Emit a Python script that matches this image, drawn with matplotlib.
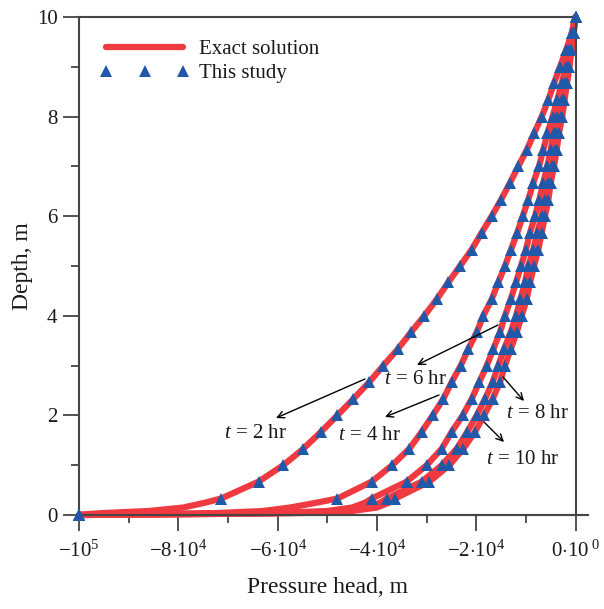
import numpy as np
import matplotlib
matplotlib.use("Agg")
import matplotlib.pyplot as plt
from matplotlib.lines import Line2D

plt.rcParams['font.family'] = ['Liberation Serif', 'DejaVu Serif']
plt.rcParams['mathtext.fontset'] = 'custom'
plt.rcParams['mathtext.rm'] = 'Liberation Serif'
plt.rcParams['mathtext.it'] = 'Liberation Serif:italic'

# ---------------- data ----------------
depth = [0.00, 0.33, 0.67, 1.00, 1.33, 1.67, 2.00, 2.33, 2.67, 3.00,
         3.33, 3.67, 4.00, 4.33, 4.67, 5.00, 5.33, 5.67, 6.00, 6.33,
         6.67, 7.00, 7.33, 7.67, 8.00, 8.33, 8.67, 9.00, 9.33, 9.67, 10.00]

h_t2 = [-100000, -71400, -63840, -58850, -54820, -51260, -47970, -44750, -41530, -38710,
        -35810, -33130, -30450, -27950, -25620, -23260, -20910, -18890, -16880, -15000,
        -13190, -11520, -9830, -8300, -6810, -5480, -4330, -3120, -1910, -770, 0]
h_t4 = [-100000, -47970, -41050, -36920, -33470, -30980, -28760, -26630, -24930, -23120,
        -21590, -19900, -18570, -16880, -15550, -14200, -12990, -11720, -10630, -9510,
        -8500, -7350, -6490, -5640, -4630, -3670, -2780, -1910, -1450, -770, 0]
h_t6 = [-100000, -41050, -34000, -29970, -26950, -24930, -22720, -20910, -19370, -17880,
        -16550, -15210, -14200, -13050, -11980, -10980, -9970, -9160, -8160, -7290,
        -6490, -5680, -4990, -4430, -3630, -2780, -2110, -1450, -970, -500, 0]
h_t8 = [-100000, -38020, -30980, -26950, -23930, -21790, -19900, -18230, -16680, -15550,
        -14400, -13050, -11980, -11080, -10170, -9510, -8500, -7690, -6810, -6140,
        -5480, -4790, -4130, -3930, -3020, -2520, -1910, -1450, -910, -400, 0]
h_t10 = [-100000, -36350, -29440, -25410, -22600, -20240, -18430, -16680, -15210, -14200,
         -13050, -11840, -10840, -9830, -9160, -8360, -7490, -6810, -6140, -5480,
         -4990, -4330, -3790, -3320, -2660, -2220, -1710, -1210, -810, -400, 0]

# extra points of the exact-solution curves close to the bottom boundary
depth_bottom = [0.00, 0.02, 0.04, 0.08, 0.15, 0.25]
hb_t2 = [-100000, -98000, -95000, -86000, -79000, -74500]
hb_t4 = [-100000, -85000, -72000, -63000, -57500, -52000]
hb_t6 = [-100000, -78000, -60000, -50000, -45000, -42300]
hb_t8 = [-100000, -75000, -57000, -47000, -42000, -39300]
hb_t10 = [-100000, -73000, -55000, -45000, -40000, -37500]

labels = ["$t$ = 2 hr", "$t$ = 4 hr", "$t$ = 6 hr", "$t$ = 8 hr", "$t$ = 10 hr"]

xticks = [-100000, -80000, -60000, -40000, -20000, 0]
xticklabels = [r"$-10^{5}$", r"$-8{\cdot}10^{4}$", r"$-6{\cdot}10^{4}$",
               r"$-4{\cdot}10^{4}$", r"$-2{\cdot}10^{4}$", r"$0{\cdot}10^{\ 0}$"]
yticks = [0, 2, 4, 6, 8, 10]

RED = '#EE3A40'
BLUE = '#2258A8'
SPINE = '#454545'

# ---------------- figure ----------------
W, H = 604, 609
fig = plt.figure(figsize=(W / 100, H / 100), dpi=100)
L, R, B, T = 79, 575.5, 515, 17
ax = fig.add_axes([L / W, 1 - B / H, (R - L) / W, (B - T) / H])

series = [(h_t2, hb_t2), (h_t4, hb_t4), (h_t6, hb_t6), (h_t8, hb_t8), (h_t10, hb_t10)]
for h, hb in series:
    xs = hb + h[1:]
    ys = depth_bottom + depth[1:]
    order = np.argsort(ys)
    ax.plot(np.array(xs)[order], np.array(ys)[order], color=RED, lw=4.5,
            solid_capstyle='round', solid_joinstyle='round', zorder=2, clip_on=False)
for h, hb in series:
    ax.plot(h, depth, linestyle='none', marker='^', ms=9, color=BLUE,
            markeredgewidth=0, zorder=3, clip_on=False)

ax.set_xlim(-100000, 0)
ax.set_ylim(0, 10)

ax.set_xticks(xticks)
ax.set_xticklabels(xticklabels)
ax.set_xticks([-90000, -70000, -50000, -30000, -10000], minor=True)
ax.set_yticks(yticks)
ax.set_yticks([1, 3, 5, 7, 9], minor=True)
ax.tick_params(which='major', direction='out', length=11.5, width=1.3, color=SPINE,
               labelsize=15, labelcolor='#1a1a1a')
ax.tick_params(axis='x', which='major', pad=7)
ax.tick_params(axis='y', which='major', pad=4)
ax.tick_params(which='minor', direction='out', length=6, width=1.3, color=SPINE)

for s in ax.spines.values():
    s.set_color(SPINE)
    s.set_linewidth(1.5)

# bottom axis line extends a little beyond x = 0
ax.add_line(Line2D([0, 1.025], [0, 0], transform=ax.transAxes, color=SPINE,
                   lw=1.5, clip_on=False, zorder=1))

ax.set_xlabel("Pressure head, m", fontsize=17, labelpad=11, color='#1a1a1a')
ax.set_ylabel("Depth, m", fontsize=17, labelpad=3, color='#1a1a1a')

# annotations
def px2d(px, py):
    return ((px - R) / (R - L) * 100000, (B - py) / (B - T) * 10)

ann = [  # (label, text px, tail px, head px)
    (labels[0], (255, 433), (365, 379), (276, 418)),
    (labels[1], (369, 436), (439, 395), (385, 417)),
    (labels[2], (415, 380), (498, 325), (417, 365)),
    (labels[3], (537, 413), (503, 377), (524, 401)),
    (labels[4], (523, 460), (484, 422), (504, 442)),
]
for lab, tp, tail, head in ann:
    ax.text(*px2d(*tp), lab, fontsize=15, ha='center', va='center', color='#1a1a1a')
    ax.annotate("", xy=px2d(*head), xytext=px2d(*tail),
                arrowprops=dict(arrowstyle='->', color='black', lw=1.0,
                                shrinkA=0, shrinkB=0, mutation_scale=12))

# legend
h1 = Line2D([], [], color=RED, lw=4.5, solid_capstyle='round')
h2 = Line2D([], [], color=BLUE, marker='^', ms=9, linestyle='none', markeredgewidth=0)
leg = ax.legend([h1, h2], ["Exact solution", "This study"], loc='upper left',
                bbox_to_anchor=(0.025, 0.971), frameon=False, fontsize=15,
                handlelength=4.3, handletextpad=0.45, labelspacing=0.2,
                numpoints=3, borderaxespad=0)
for t in leg.get_texts():
    t.set_color('#1a1a1a')

fig.savefig("out.png", dpi=100)
